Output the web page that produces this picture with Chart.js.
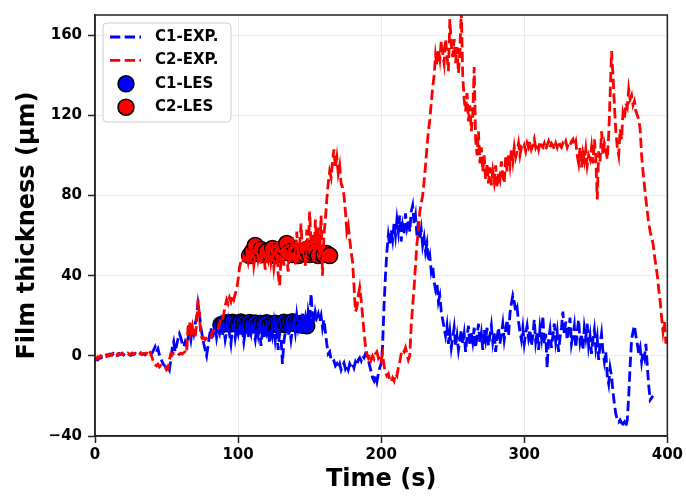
<!DOCTYPE html>
<html>
<head>
<meta charset="utf-8">
<script src="https://cdn.jsdelivr.net/npm/chart.js@4.4.0/dist/chart.umd.min.js"></script>
<style>
  html, body { margin: 0; padding: 0; background: #fff; }
  #wrap { width: 686px; height: 496px; }
</style>
</head>
<body>
<div id="wrap"><canvas id="filmChart" width="686" height="496"></canvas></div>
<script>
// Measured film thickness (um), one sample per second
const c1Exp = [
  -2.5, -1.5, -2, -1, -1.2, -0.5, -0.8, 0, -0.3, 0.5,
  0.2, 0.8, 0.4, 1.2, 0.6, 1, 0.3, 1.1, 0.7, 1.3,
  0.5, 1, 0.6, 1.4, 0.8, 0.2, 1, 0.5, 1.2, 0.6,
  1, 0.4, 1.3, 0.7, 1.1, 0.5, 1.2, 0.8, 1.4, 0.6,
  1.5, 3, 4.5, 2, 3.5, 0.5, -1.5, -3, -4.5, -5,
  -6.5, -5.5, -7, -2, 4, 7, 2, 5, 8.5, 11,
  9, 6, 4.5, 7, 5, 9, 12, 8, 14, 11,
  16, 19, 26, 21, 14, 10, 6, 3, 0, 5,
  10, 14, 8, 12, 15, 9, 13, 11, 16, 10,
  14, 8, 12, 17, 11, 6, 13, 15, 9, 14,
  11, 16, 10, 13, 7, 12, 15, 9, 14, 11,
  17, 12, 8, 14, 10, 15, 5, 12, 9, 16,
  11, 13, 6, 14, 10, 16, 8, 13, 3, 11,
  9, -4, 7, 12, 15, 10, 14, 8, 13, 17,
  12, 20, 14, 18, 11, 21, 15, 19, 13, 22,
  18, 31, 20, 16, 22, 19, 21, 17, 20, 14,
  18, 12, 6, 1, 2, -2, -3, -2.5, -5, -4,
  -6, -4, -7, -5, -3.5, -6.5, -5, -7, -4, -5.5,
  -4, -6, -3, -4.5, -2, -1, -2.5, 0, -1, 1,
  0, -2, -5, -8, -11, -12.5, -10, -13, -9, -6,
  -4, 5, 25, 40, 52, 60, 55, 63, 58, 66,
  60, 68, 62, 70, 57, 65, 61, 71, 64, 68,
  62, 72, 75, 66, 70, 60, 67, 58, 63, 55,
  59, 52, 56, 47, 50, 42, 45, 37, 33, 36,
  27, 30, 22, 18, 14, 10, 15, 6, 12, 4,
  9, 14, 5, 10, 3, 8, 13, 6, 11, 2,
  9, 15, 5, 12, 7, 14, 4, 10, 16, 6,
  11, 3, 13, 8, 14, 5, 10, 15, 7, 12,
  2, 9, 14, 6, 11, 16, 8, 13, 18, 10,
  21, 26, 30, 27, 22, 24, 17, 12, 8, 14,
  6, 11, 15, 9, 13, 5, 10, 18, 7, 12,
  3, 14, 9, 20, 6, 11, -6, 8, 13, 4,
  10, 16, 7, 12, 2, 9, 14, 22, 11, 17,
  8, 13, 19, 6, 10, 15, 4, 12, 18, 7,
  11, 3, 14, 9, 16, 5, 10, 1, 8, 13,
  4, 9, -2, 6, 11, 2, -3, 2, -10, -14,
  -6, -10, -18, -24, -29, -32, -33, -32, -33.5, -34,
  -33, -35, -32, -20, -5, 8, 12, 15, 10, 6,
  1, 4, -3, 2, -1, 6, -5, -15, -22, -21,
  -20
];

const c2Exp = [
  -1, -1.5, -0.5, -1, 0, -0.5, 0.3, -0.2, 0.5, 0,
  0.8, 0.2, 1, 0.4, 0.9, 0.3, 1.1, 0.5, 0.8, 1.2,
  0.4, 1, 0.6, 1.3, 0.5, 0.9, 1.4, 0.7, 1.1, 0.6,
  1.2, 0.8, 1.5, 0.7, 1.1, 0.9, 1.3, 0.8, 2.5, 1,
  -1, -4, -4.5, -5, -4.2, -5.5, -4.8, -5.2, -6, -5.5,
  -7, -6.5, -2, 1, 0.5, 1.2, 0.8, 1.5, 1, 0.6,
  1.3, 0.9, 1.6, 2, 1.2, 14, 17, 12, 15, 10,
  9, 16, 28, 20, 10, 8.5, 9, 8, 8.8, 9.5,
  8.5, 9, 12, 12.5, 11.8, 12.3, 13, 16, 19, 18,
  21, 25, 28, 26, 29, 27, 30, 28, 31, 33,
  38, 44, 47, 46, 49, 48, 51, 47, 52, 49,
  53, 45, 50, 54, 48, 52, 46, 55, 50, 43,
  51, 48, 56, 47, 52, 44, 50, 57, 41, 35,
  48, 53, 45, 58, 49, 42, 54, 47, 60, 51,
  45, 62, 48, 55, 66, 50, 58, 44, 63, 52,
  72, 55, 61, 47, 68, 53, 64, 49, 70, 40,
  60, 68, 78, 86, 92, 89, 97, 103, 94, 99,
  91, 95, 86, 84, 80, 72, 62, 65, 58, 52,
  47, 35, 22, 24, 30, 34, 28, 20, 12, 5,
  1, -1, 1, -2, 0, -1.5, 1, 2, -1, 0.5,
  -2, 1, -5, -8, -10, -9, -12, -13, -11, -12.5,
  -9, -10, -6, -3, 1, 3, 2, 4, 1, -2,
  0, 15, 25, 34, 45, 56, 62, 72, 76, 80,
  87, 95, 104, 112, 118, 126, 134, 140, 150, 145,
  153, 148, 157, 151, 146, 158, 150, 142, 168, 155,
  149, 158, 146, 154, 141, 152, 172, 140, 128, 122,
  131, 117, 125, 112, 120, 144, 108, 100, 112, 96,
  104, 92, 100, 88, 96, 86, 94, 85, 92, 87,
  95, 84, 91, 88, 97, 90, 86, 99, 92, 101,
  95, 103, 97, 104, 99, 102, 106, 100, 104, 103,
  105, 102, 106, 104, 107, 103, 105, 108, 104, 106,
  103, 107, 105, 104, 106, 103, 105, 107, 104, 106,
  105, 103, 106, 104, 107, 105, 104, 106, 105, 107,
  104, 106, 105, 107, 108, 105, 107, 100, 96, 104,
  94, 101, 97, 103, 95, 100, 98, 104, 96, 108,
  99, 78, 102, 97, 112, 100, 106, 103, 98, 110,
  130, 152, 140, 125, 112, 104, 100, 113, 108, 121,
  118, 126, 124, 133, 128, 130, 125, 127, 122, 120,
  118, 113, 100, 92, 85, 78, 72, 66, 62, 59,
  56, 50, 45, 40, 33, 27, 19, 12, 17, 6
];

// LES results
const lesC1Time = [88, 90, 92, 94, 96, 98, 100, 102, 104, 106, 108, 110, 112, 114, 116, 118,
  120, 122, 124, 126, 128, 130, 132, 134, 136, 138, 140, 142, 144, 146, 148];
const lesC1Val = [15.5, 16, 16.5, 15.8, 16.8, 16.2, 15.5, 16.9, 16.3, 15.7,
  16.6, 15.9, 16.4, 15.2, 16.1, 15.6, 16.5, 15.3, 15.9, 16.2,
  15.4, 15.8, 16.7, 15.5, 16.4, 17, 16.1, 15.6, 16.3, 15.2, 15];
const lesC2Time = [108, 110, 112, 114, 116, 118, 120, 122, 124, 126, 128, 130, 132, 134, 136,
  138, 140, 142, 144, 146, 148, 150, 152, 154, 156, 158, 160, 162, 164];
const lesC2Val = [50, 52, 55, 51, 53, 50.5, 52, 51, 53.5, 50,
  52.5, 51, 54, 56, 52, 50.5, 51.5, 50, 52, 51,
  53, 50.5, 51.5, 52, 50, 51, 50.5, 51, 50];

const xTicks = [0, 100, 200, 300, 400];
const yTicks = [-40, 0, 40, 80, 120, 160];

// sample times (s) for the measured series
const time = c2Exp.map((_, i) => i);

const FONT = '"DejaVu Sans", sans-serif';
Chart.defaults.font.family = FONT;
Chart.defaults.color = '#000';

const DASH = [10.3, 4.4];

// matplotlib-style legend box in the upper-left corner of the plot
const boxLegend = {
  id: 'boxLegend',
  afterDraw(chart) {
    const { ctx, chartArea } = chart;
    const x0 = chartArea.left + 8, y0 = chartArea.top + 8;
    ctx.save();
    ctx.beginPath();
    ctx.roundRect(x0, y0, 128, 99, 4);
    ctx.fillStyle = 'rgba(255,255,255,0.8)';
    ctx.fill();
    ctx.strokeStyle = '#cccccc';
    ctx.lineWidth = 1;
    ctx.stroke();
    ctx.font = 'bold 15px ' + FONT;
    ctx.textBaseline = 'middle';
    ctx.textAlign = 'left';
    chart.data.datasets.forEach((ds, i) => {
      const cy = y0 + 14 + i * 23.4;
      if (ds.type === 'line') {
        ctx.setLineDash(ds.borderDash);
        ctx.strokeStyle = ds.borderColor;
        ctx.lineWidth = ds.borderWidth;
        ctx.beginPath();
        ctx.moveTo(x0 + 7, cy);
        ctx.lineTo(x0 + 38, cy);
        ctx.stroke();
        ctx.setLineDash([]);
      } else {
        ctx.beginPath();
        ctx.arc(x0 + 23, cy, ds.pointRadius, 0, Math.PI * 2);
        ctx.fillStyle = ds.backgroundColor;
        ctx.fill();
        ctx.strokeStyle = ds.borderColor;
        ctx.lineWidth = ds.borderWidth;
        ctx.stroke();
      }
      ctx.fillStyle = '#000';
      ctx.fillText(ds.label, x0 + 52, cy);
    });
    ctx.restore();
  }
};

// full frame around the plot area
const frame = {
  id: 'frame',
  afterDraw(chart) {
    const { ctx, chartArea: { left, top, right, bottom } } = chart;
    ctx.save();
    ctx.strokeStyle = '#222';
    ctx.lineWidth = 1.5;
    ctx.strokeRect(left, top, right - left, bottom - top);
    ctx.restore();
  }
};

const GRID = { color: '#ebebeb', lineWidth: 1, tickColor: '#222', tickLength: 7, tickWidth: 1.5 };
const TICK_FONT = { size: 15, weight: 'bold' };
const TITLE_FONT = { size: 24, weight: 'bold' };
// proper minus sign on negative tick labels
const fmtTick = (v) => String(v).replace('-', '\u2212');

new Chart(document.getElementById('filmChart'), {
  type: 'line',
  data: {
    labels: time,
    datasets: [
      { type: 'line', label: 'C1-EXP.', data: c1Exp, borderColor: '#0000ff', borderWidth: 2.8,
        borderDash: DASH, pointRadius: 0, fill: false, tension: 0, order: 1 },
      { type: 'line', label: 'C2-EXP.', data: c2Exp, borderColor: '#ff0000', borderWidth: 2.8,
        borderDash: DASH, pointRadius: 0, fill: false, tension: 0, order: 0 },
      { type: 'scatter', label: 'C1-LES', data: lesC1Time.map((t, i) => ({ x: t, y: lesC1Val[i] })),
        backgroundColor: '#0000ff', borderColor: '#000', borderWidth: 1.5, pointRadius: 8, order: 3 },
      { type: 'scatter', label: 'C2-LES', data: lesC2Time.map((t, i) => ({ x: t, y: lesC2Val[i] })),
        backgroundColor: '#ff0000', borderColor: '#000', borderWidth: 1.5, pointRadius: 8, order: 2 },
    ],
  },
  options: {
    responsive: false,
    animation: false,
    devicePixelRatio: 1,
    layout: { padding: { top: 9, right: 17, bottom: 0, left: 0 } },
    plugins: {
      legend: { display: false },
      tooltip: { enabled: false },
    },
    scales: {
      x: {
        type: 'linear', min: 0, max: 400,
        afterBuildTicks: (s) => { s.ticks = xTicks.map(v => ({ value: v })); },
        afterFit: (s) => { s.height = 60; },
        grid: GRID,
        border: { color: '#222', width: 1.5 },
        ticks: { font: TICK_FONT, color: '#000', padding: 3, maxRotation: 0, callback: fmtTick },
        title: { display: true, text: 'Time (s)', font: TITLE_FONT, color: '#000', padding: { top: 0, bottom: 2 } },
      },
      y: {
        type: 'linear', min: -40, max: 170,
        afterBuildTicks: (s) => { s.ticks = yTicks.map(v => ({ value: v })); },
        afterFit: (s) => { s.width = 95; },
        grid: GRID,
        border: { color: '#222', width: 1.5 },
        ticks: { font: TICK_FONT, color: '#000', padding: 6, callback: fmtTick },
        title: { display: true, text: 'Film thickness (μm)', font: TITLE_FONT, color: '#000', padding: { top: 13, bottom: 0 } },
      },
    },
  },
  plugins: [boxLegend, frame],
});
</script>
</body>
</html>
